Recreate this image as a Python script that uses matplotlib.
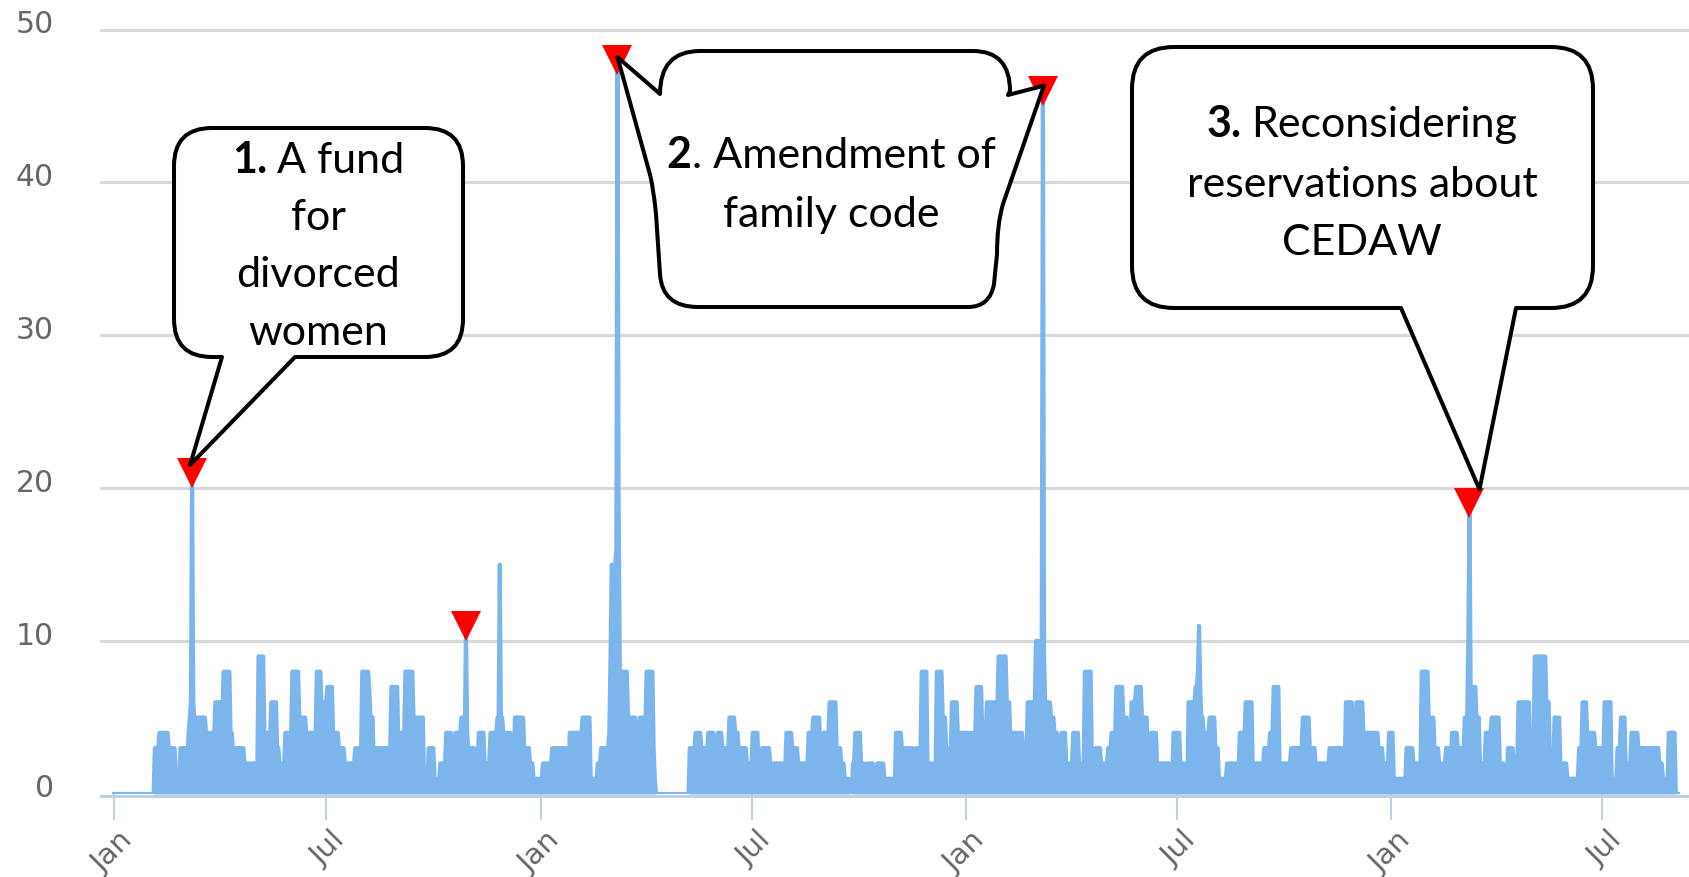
import matplotlib
matplotlib.use("Agg")
import matplotlib.pyplot as plt
import matplotlib.dates as mdates
import matplotlib.transforms as mtransforms
from matplotlib.path import Path
from matplotlib.patches import PathPatch
import pandas as pd

# ---------------- data (daily counts) ----------------
y2016 = [
    0, 0, 0, 0, 0, 0, 0, 0, 0, 0, 0, 0, 0, 0, 0, 0, 0, 0, 0, 0,
    0, 0, 0, 0, 0, 0, 0, 0, 0, 0, 0, 0, 0, 0, 0,
    3, 3, 3, 3, 4, 4, 4, 4, 4, 4, 4, 4, 3, 3, 3, 3, 3, 3,
    1, 1, 1, 1, 3, 3, 3, 3, 3, 3,
    2, 4, 5, 6, 21, 6, 5, 5,
    5, 5, 5, 5, 5, 5, 5, 5, 4, 4, 4, 4, 4, 4, 4, 4,
    6, 6, 6, 6, 6, 5, 5, 8, 8, 8, 8, 8, 8, 4, 4,
    3, 3, 3, 3, 3, 3, 3, 3, 3, 3, 2, 2, 2, 2, 2, 2, 2, 2, 2, 2, 2, 2,
    9, 9, 9, 9, 9, 4, 4, 4, 4, 4, 4, 6, 6, 6, 6, 6, 3, 3, 2, 2, 2, 2, 2,
    4, 4, 4, 4, 4, 4, 8, 8, 8, 8, 8, 8, 5, 5, 5, 5, 5, 5,
    4, 4, 4, 4, 4, 4, 4, 4, 4,
    8, 8, 8, 8, 6, 6, 6, 6, 6, 7, 7, 7, 7, 7, 4, 4, 4, 4, 4, 3, 3, 3, 3, 3,
    2, 2, 2, 2, 2, 2, 2, 2, 2, 3, 3, 3, 3, 3, 3, 8, 8, 8, 8, 8, 8, 7, 5, 5, 5, 1, 1,
    3, 3, 3, 3, 3, 3, 3, 3, 3, 3, 3, 3, 3, 7, 7, 7, 7, 7, 7, 3, 4, 4, 4, 4, 4,
    8, 8, 8, 8, 8, 8, 8, 5, 5, 5, 5, 5, 5, 5, 5, 5, 1, 1, 1, 1, 3, 3, 3, 3, 3,
    1, 1, 1, 1, 1, 2, 2, 2, 2, 2, 4, 4, 4, 4, 4, 3, 3, 3, 4, 4, 4, 4, 4, 5, 5, 5,
    4, 11, 4, 3, 3, 3, 3, 3, 3, 2, 2, 2, 4, 4, 4, 4, 4, 2, 2, 2, 2, 2, 4, 4, 4, 4, 4, 4,
    5, 5, 15, 5, 5, 4, 4, 4, 4, 4, 4, 4, 2, 2, 2, 5, 5, 5, 5, 5, 5, 5, 5,
    3, 3, 3, 3, 3, 2, 2, 2, 1, 1, 1, 1, 1, 1,
]
y2017 = [
    1, 1, 2, 2, 2, 2, 2, 2, 2, 2,
    3, 3, 3, 3, 3, 3, 3, 3, 3, 3, 3, 3, 3, 1, 1,
    4, 4, 4, 4, 4, 4, 4, 4, 4, 4, 4, 5, 5, 5, 5, 5, 5, 5,
    1, 1, 1, 1, 1, 1, 2, 2, 2, 3, 3, 3, 3, 3, 3, 3,
    4, 9, 15, 15, 15, 15, 16, 48, 19,
    8, 8, 8, 8, 8, 8, 8, 5, 5, 5, 5, 5, 5, 5, 4, 4, 4,
    5, 5, 5, 5, 5, 5, 8, 8, 8, 8, 8, 8, 3, 1,
    0, 0, 0, 0, 0, 0, 0, 0, 0, 0, 0, 0, 0, 0, 0, 0, 0, 0, 0, 0,
    0, 0, 0, 0, 0, 0, 0, 0, 0,
    3, 3, 3, 3, 3, 4, 4, 4, 4, 4, 3, 3, 3, 3, 3, 3, 4, 4, 4, 4, 4, 3, 3, 3, 4, 4, 4, 4,
    3, 3, 3, 3, 3, 3, 5, 5, 5, 5, 5, 4, 4, 4, 3, 3, 3, 3, 3, 3, 3, 2, 2, 2, 2, 2,
    4, 4, 4, 4, 4, 2, 2, 2, 3, 3, 3, 3, 3, 3, 3,
    2, 2, 2, 2, 2, 2, 2, 2, 2, 2, 2, 2, 2, 2,
    4, 4, 4, 4, 4, 3, 3, 3, 3, 3, 2, 2, 2, 2, 2, 2, 2, 2, 2, 4, 4, 4, 4,
    5, 5, 5, 5, 5, 5, 3, 3, 3, 4, 4, 4, 4, 4, 6, 6, 6, 6, 6, 6, 3, 3, 3, 3, 2, 2, 2,
    1, 1, 1, 1, 0, 0, 0, 2, 2, 4, 4, 4, 4, 4, 2, 2, 2, 2, 1, 1,
    2, 2, 2, 2, 2, 1, 1, 1, 2, 2, 2, 2, 2, 2,
    1, 1, 1, 1, 1, 1, 1, 1, 1, 1, 4, 4, 4, 4, 4, 3, 3, 3, 3, 3, 3, 3, 3, 3, 3,
    2, 2, 3, 3, 3, 3, 3, 8, 8, 8, 8, 8, 2, 2, 2, 2, 2, 2, 2, 2,
    8, 8, 8, 8, 8, 5, 5, 5, 3, 3, 3, 3, 3, 6, 6, 6, 6, 6, 4, 4, 4, 4, 4, 4, 4,
]
y2018 = [
    4, 4, 4, 4, 4, 4, 4, 4, 4, 7, 7, 7, 7, 7, 4, 4, 4, 4,
    6, 6, 6, 6, 6, 6, 6, 6, 6, 6, 9, 9, 9, 9, 9, 9, 9, 6, 6, 6,
    4, 4, 4, 4, 4, 4, 4, 4, 4, 4, 4, 3, 3, 3, 3, 6, 6, 6, 6, 6, 6, 6,
    10, 10, 10, 10, 10, 10, 46, 9, 6, 6, 6, 6, 6, 5, 5, 5,
    4, 4, 4, 3, 3, 3, 4, 4, 4, 4, 2, 2, 2, 2, 2, 2, 4, 4, 4, 4, 4, 2, 2, 2, 2, 2,
    8, 8, 8, 8, 8, 8, 2, 2, 2, 3, 3, 3, 3, 3, 2, 2, 2, 2, 2, 2, 3, 3, 3, 4, 4, 4, 4,
    7, 7, 7, 7, 7, 7, 5, 5, 5, 5, 2, 2, 2, 6, 6, 6, 6,
    7, 7, 7, 7, 7, 5, 5, 5, 5, 5, 3, 3, 3, 4, 4, 4, 4, 4,
    2, 2, 2, 2, 2, 2, 2, 2, 2, 2, 2, 1, 1, 1, 4, 4, 4, 4, 4, 4, 2, 2, 2, 2, 1, 1, 1,
    6, 6, 6, 6, 6, 6, 7, 7, 8, 11, 7, 5, 5, 4, 4, 4, 4, 4, 5, 5, 5, 5, 5, 3, 3, 3,
    1, 1, 1, 1, 1, 1, 1, 2, 2, 2, 2, 2, 2, 2, 2, 2, 2, 2, 4, 4, 4, 4, 4, 6, 6, 6, 6, 6, 6,
    2, 2, 2, 2, 2, 2, 2, 2, 2, 2, 3, 3, 3, 3, 3, 4, 4, 4, 7, 7, 7, 7, 7,
    2, 2, 2, 2, 2, 2, 2, 2, 2, 2, 3, 3, 3, 3, 3, 3, 3, 3, 3, 3, 5, 5, 5, 5, 5, 5, 3, 3, 3, 3, 3,
    2, 2, 2, 2, 2, 2, 2, 2, 2, 2, 2, 2, 3, 3, 3, 3, 3, 3, 3, 3, 3, 3, 3, 2, 2, 2,
    6, 6, 6, 6, 6, 6, 4, 4, 4, 6, 6, 6, 6, 6, 6,
    4, 4, 4, 4, 4, 4, 4, 4, 4, 4, 4, 4, 4, 3, 3, 3, 3, 2, 2, 2, 2, 2, 4, 4,
]
y2019 = [
    4, 4, 1, 1, 1, 1, 1, 1, 1, 1, 1, 1, 1, 3, 3, 3, 3, 3, 3, 2, 2, 2, 2, 2, 2, 2,
    8, 8, 8, 8, 8, 8, 5, 5, 5, 5, 5, 3, 3, 3, 3, 2, 2, 2, 2, 2, 2, 3, 3, 3, 2, 2,
    4, 4, 4, 4, 4, 3, 3, 3, 3, 3, 3, 5, 5, 5, 10, 19, 7, 7, 7, 7, 7, 5, 5, 5,
    2, 2, 2, 2, 2, 4, 4, 4, 4, 4, 5, 5, 5, 5, 5, 5, 5, 2, 2, 2, 2, 1, 1, 1, 3, 3, 3, 3, 3, 2, 2, 2, 2,
    6, 6, 6, 6, 6, 6, 6, 6, 6, 6, 3, 3, 3, 3, 9, 9, 9, 9, 9, 9, 9, 9, 9, 9, 6, 6, 6, 2, 2, 2, 2,
    5, 5, 5, 5, 5, 2, 2, 2, 2, 2, 2, 1, 1, 1, 1, 1, 1, 1, 1, 1, 1, 3, 3, 3, 6, 6, 6, 6,
    4, 4, 4, 4, 4, 4, 4, 3, 3, 3, 3, 3, 3, 3, 3, 6, 6, 6, 6, 6, 6, 1, 1, 1, 1, 1, 3, 3, 3, 5, 5, 5, 5, 2, 2, 2, 2, 2,
    4, 4, 4, 4, 4, 4, 3, 3, 3, 3, 3, 3, 3, 3, 3, 3, 3, 3, 3, 3, 3, 3, 3, 3, 2, 2, 2, 1, 1, 1, 1, 1, 4, 4, 4, 4, 4, 4, 0, 0, 0,
]
year_starts = ["2016-01-01", "2017-01-01", "2018-01-01", "2019-01-01"]

marker_dates = ["2016-03-08", "2016-10-29", "2017-03-08", "2018-03-08", "2019-03-09"]

y_ticks = [0, 10, 20, 30, 40, 50]
x_tick_dates = ["2016-01-01", "2016-07-01", "2017-01-01", "2017-07-01",
                "2018-01-01", "2018-07-01", "2019-01-01", "2019-07-01"]
x_tick_labels = ["Jan", "Jul", "Jan", "Jul", "Jan", "Jul", "Jan", "Jul"]

callout_1 = [("1. ", "A fund"), ("", "for"), ("", "divorced"), ("", "women")]
callout_2 = [("2", ". Amendment of"), ("", "family code")]
callout_3 = [("3. ", "Reconsidering"), ("", "reservations about"), ("", "CEDAW")]

# ---------------- build series ----------------
years = [y2016, y2017, y2018, y2019]
parts = []
for start, vals in zip(year_starts, years):
    parts.append(pd.Series(vals, index=pd.date_range(start, periods=len(vals), freq="D")))
series = pd.concat(parts)
assert series.index.is_unique, [len(v) for v in years]

W, H = 1690, 878
fig = plt.figure(figsize=(W / 100, H / 100), dpi=100)
X0, Y0, YTOP = 101, 795, 30.5
ax = fig.add_axes([X0 / W, (H - Y0) / H, (W - X0) / W, (Y0 - YTOP) / H])

PX_PER_DAY = 1.1655
t0 = mdates.date2num(pd.Timestamp("2016-01-01"))
ax.set_xlim(t0 - (114 - X0) / PX_PER_DAY, t0 + (W - 114) / PX_PER_DAY)
ax.set_ylim(0, 50)
for s in ax.spines.values():
    s.set_visible(False)

x = mdates.date2num(series.index)
y = series.values

for v in y_ticks[1:]:
    ax.axhline(v, color="#d8d8d8", lw=2.2, zorder=1, clip_on=False)
base_tr = mtransforms.offset_copy(ax.get_yaxis_transform(), fig=fig, x=0, y=-1.8, units="dots")
ax.plot([0, 1], [0, 0], color="#c0d0e0", lw=2.2, transform=base_tr, zorder=1.5, clip_on=False)

ax.fill_between(x, y, 0, color="#7cb5ec", lw=0, zorder=2)
ax.plot(x, y, color="#7cb5ec", lw=3.0, zorder=3, solid_joinstyle="round")

mdt = pd.to_datetime(marker_dates)
ax.plot(mdates.date2num(mdt), series.loc[mdt].values, linestyle="none", marker="v",
        ms=21, color="#ff0000", mew=0, zorder=6, clip_on=False)

xt = mdates.date2num(pd.to_datetime(x_tick_dates))
ax.set_xticks(xt)
ax.set_xticklabels([])
ax.set_yticks([])
ax.tick_params(axis="x", length=19, width=1.5, color="#c0d0e0", direction="out")

LABEL_FONT = "DejaVu Sans"
for d, lab in zip(xt, x_tick_labels):
    ax.annotate(lab, xy=(d, 0), xycoords=("data", "axes fraction"), xytext=(5, -31),
                textcoords="offset pixels", rotation=45, rotation_mode="anchor",
                ha="right", va="top", fontsize=21, color="#666666", family=LABEL_FONT,
                annotation_clip=False)
for v in y_ticks:
    ax.annotate(str(v), xy=(0, v), xycoords=("axes fraction", "data"), xytext=(-47, 6),
                textcoords="offset pixels", ha="right", va="center", fontsize=21.5,
                color="#666666", family=LABEL_FONT, annotation_clip=False)

# ---------------- callouts (overlay in pixel coordinates) ----------------
ov = fig.add_axes([0, 0, 1, 1])
ov.set_xlim(0, W)
ov.set_ylim(H, 0)
ov.axis("off")
ov.set_zorder(10)
ov.patch.set_visible(False)


def to_px(date, val, dx=0, dy=0):
    p = ax.transData.transform((mdates.date2num(pd.Timestamp(date)), val))
    return (p[0] + dx, H - p[1] + dy)


M, L_, C3, CL = Path.MOVETO, Path.LINETO, Path.CURVE3, Path.CLOSEPOLY


def bubble_bottom(L, T, R, B, r, tl, tr, tip):
    verts = [(L + r, T), (R - r, T), (R, T), (R, T + r), (R, B - r), (R, B), (R - r, B),
             (tr, B), tip, (tl, B), (L + r, B), (L, B), (L, B - r), (L, T + r), (L, T),
             (L + r, T), (L + r, T)]
    codes = [M, L_, C3, C3, L_, C3, C3, L_, L_, L_, L_, C3, C3, L_, C3, C3, CL]
    return Path(verts, codes)


edge = dict(facecolor="white", edgecolor="black", lw=2.9, joinstyle="round", zorder=11)

val = series.loc[pd.Timestamp(marker_dates[0])]
tip1 = to_px(marker_dates[0], val, -2, -8)
ov.add_patch(PathPatch(bubble_bottom(174, 129, 463, 358, 38, 222, 295, tip1), **edge))

val = series.loc[pd.Timestamp(marker_dates[4])]
tip3 = to_px(marker_dates[4], val, 10, -14)
ov.add_patch(PathPatch(bubble_bottom(1132, 48, 1593, 309, 42, 1401, 1516, tip3), **edge))

tipL = to_px(marker_dates[2], series.loc[pd.Timestamp(marker_dates[2])], 0, -3)
tipR = to_px(marker_dates[3], series.loc[pd.Timestamp(marker_dates[3])], 1, -5)
verts2 = [(700, 52), (973, 52), (1010, 52), (1010, 92), (1008, 96), tipR,
          (1003, 205), (997, 225), (997, 255), (994, 285), (990, 308), (968, 308),
          (698, 308), (662, 308), (660, 275), (656, 215), (653, 185), (649, 172),
          tipL, (660, 95), (660, 52), (700, 52), (700, 52)]
codes2 = [M, L_, C3, C3, L_, L_, L_, C3, C3, L_, C3, C3, L_, C3, C3, L_, C3, C3,
          L_, L_, C3, C3, CL]
ov.add_patch(PathPatch(Path(verts2, codes2), **edge))

TEXT_FONT = "Lato"
FS = 31
renderer = fig.canvas.get_renderer()


def draw_lines(lines, cx, baselines):
    for (b, rg), yb in zip(lines, baselines):
        gap = 0.0
        w1 = 0.0
        t1 = None
        if b:
            bs = b.rstrip()
            t1 = ov.text(0, yb, bs, fontsize=FS, fontweight="bold", family=TEXT_FONT,
                         va="baseline", ha="left", zorder=12, color="black")
            w1 = t1.get_window_extent(renderer).width
            if b.endswith(" "):
                gap = 0.22 * FS * 100 / 72
        t2 = ov.text(0, yb, rg, fontsize=FS, family=TEXT_FONT, va="baseline", ha="left",
                     zorder=12, color="black")
        w2 = t2.get_window_extent(renderer).width
        x0 = cx - (w1 + gap + w2) / 2
        if t1 is not None:
            t1.set_x(x0)
        t2.set_x(x0 + w1 + gap)


draw_lines(callout_1, 318, [173, 230, 287, 345])
draw_lines(callout_2, 831, [168, 227])
draw_lines(callout_3, 1362, [137, 197, 255])

fig.savefig("out.png", dpi=100, facecolor="white")
